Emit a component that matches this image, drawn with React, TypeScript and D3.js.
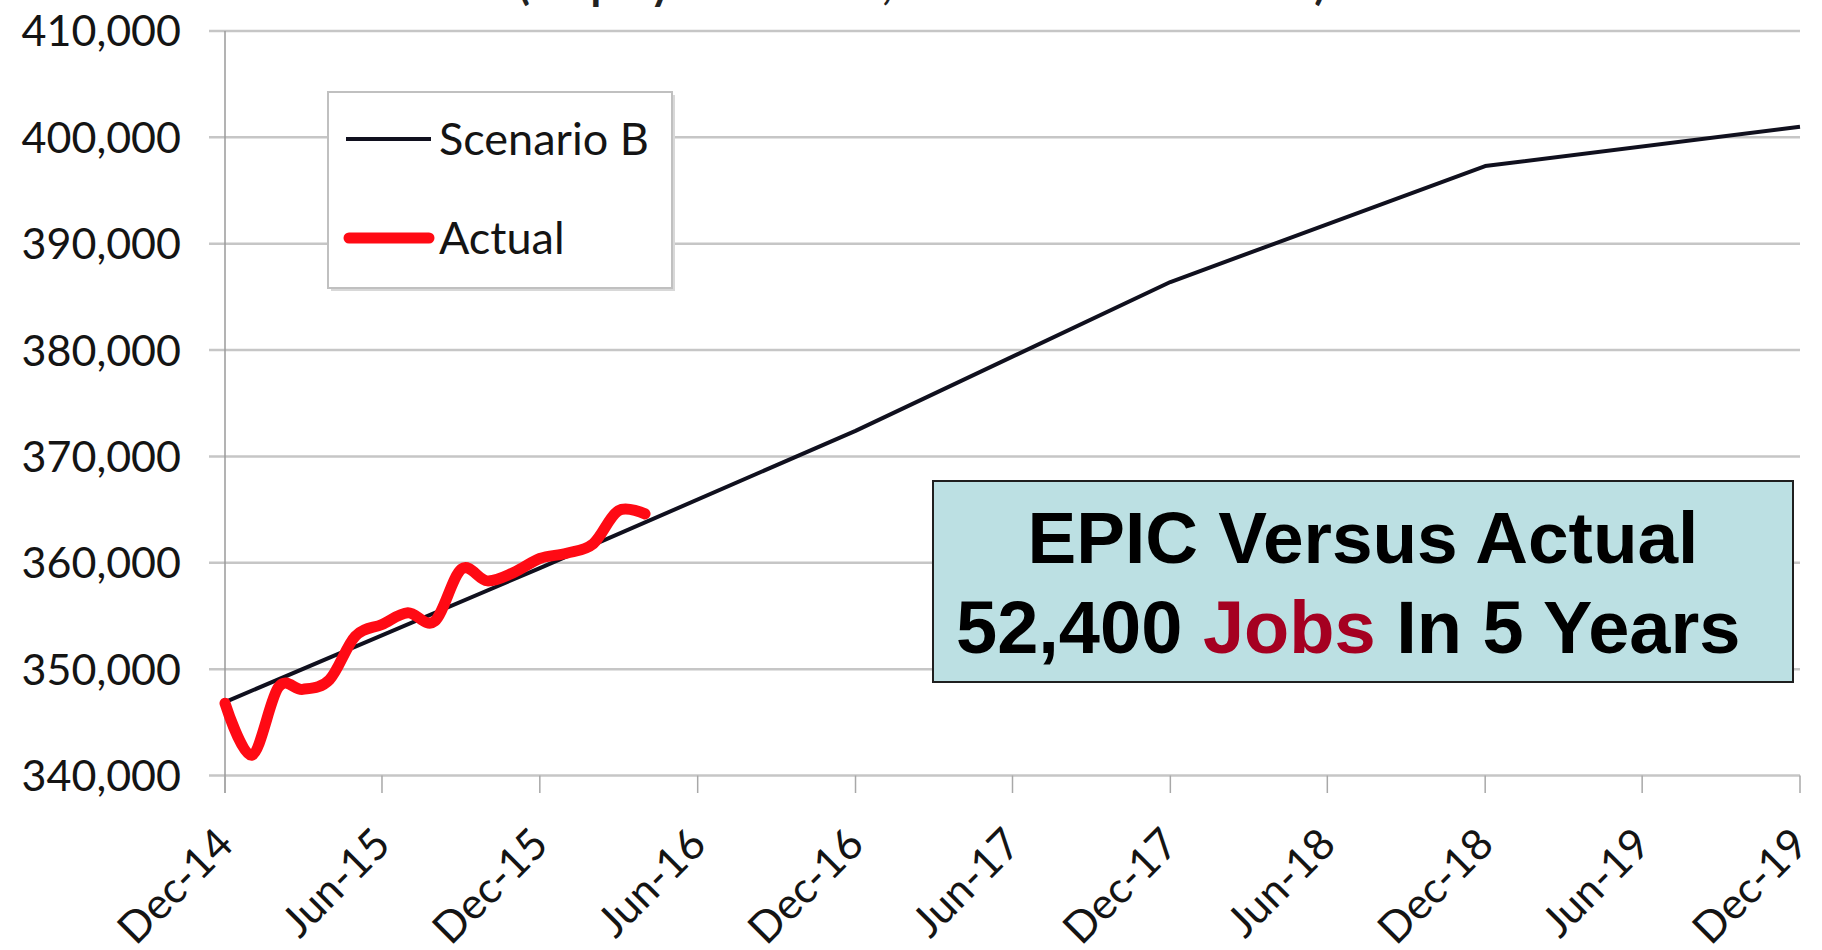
import * as d3 from "d3";

const parseMonth = d3.timeParse("%b-%y");

const xTickLabels = [
  "Dec-14", "Jun-15", "Dec-15", "Jun-16", "Dec-16", "Jun-17",
  "Dec-17", "Jun-18", "Dec-18", "Jun-19", "Dec-19",
];
const yTicks = [340000, 350000, 360000, 370000, 380000, 390000, 400000, 410000];

const scenarioMonths = ["Dec-14", "Dec-15", "Dec-16", "Dec-17", "Dec-18", "Dec-19"];
const scenarioValues = [346900, 359500, 372400, 386400, 397300, 401000];

const actualMonths = [
  "Dec-14", "Jan-15", "Feb-15", "Mar-15", "Apr-15", "May-15", "Jun-15",
  "Jul-15", "Aug-15", "Sep-15", "Oct-15", "Nov-15", "Dec-15", "Jan-16",
  "Feb-16", "Mar-16", "Apr-16",
];
const actualValues = [
  346800, 341900, 348300, 348100, 349000, 353100, 354200,
  355300, 354500, 359400, 358300, 359100, 360400, 360900,
  361800, 364900, 364600,
];

const width = 1822;
const height = 950;
const plot = { left: 225, right: 1800, top: 31, bottom: 775.5 };
const labelFont = "Lato, 'Open Sans', sans-serif";

export default function App() {
  const x = d3
    .scaleTime()
    .domain([parseMonth("Dec-14")!, parseMonth("Dec-19")!])
    .range([plot.left, plot.right]);
  const y = d3.scaleLinear().domain([340000, 410000]).range([plot.bottom, plot.top]);

  const scenarioLine = d3
    .line<number>()
    .x((_, i) => x(parseMonth(scenarioMonths[i])!))
    .y((d) => y(d));

  const actualLine = d3
    .line<number>()
    .curve(d3.curveCardinal.tension(0))
    .x((_, i) => x(parseMonth(actualMonths[i])!))
    .y((d) => y(d));

  const fmt = d3.format(",");

  return (
    <svg
      width={width}
      height={height}
      style={{ position: "absolute", left: 0, top: 0, background: "#fff" }}
    >
      {/* chart title sits above the frame; only its lowest edge shows */}
      <text
        x={922}
        y={-1}
        textAnchor="middle"
        fontFamily={labelFont}
        fontWeight={700}
        fontSize={46}
        fill="#222"
        textLength={808}
        lengthAdjust="spacingAndGlyphs"
      >
        (Employment Level, Dec 2014 - Dec 2019)
      </text>

      {/* grid */}
      {yTicks.map((t) => (
        <line
          key={t}
          x1={209}
          x2={plot.right}
          y1={y(t)}
          y2={y(t)}
          stroke="#c6c6c6"
          strokeWidth={2.5}
        />
      ))}
      <line x1={plot.left} x2={plot.left} y1={plot.top} y2={793} stroke="#9a9a9a" strokeWidth={1.5} />
      {xTickLabels.map((t) => (
        <line
          key={t}
          x1={x(parseMonth(t)!)}
          x2={x(parseMonth(t)!)}
          y1={plot.bottom}
          y2={793}
          stroke="#a8a8a8"
          strokeWidth={1.5}
        />
      ))}

      {/* y labels */}
      {yTicks.map((t) => (
        <text
          key={t}
          x={181}
          y={y(t)}
          dy="0.36em"
          textAnchor="end"
          fontFamily={labelFont}
          fontSize={43}
          fill="#141414"
        >
          {fmt(t)}
        </text>
      ))}

      {/* x labels */}
      {xTickLabels.map((t) => (
        <text
          key={t}
          transform={`translate(${x(parseMonth(t)!)}, 836) rotate(-45)`}
          dy="0.35em"
          textAnchor="end"
          fontFamily={labelFont}
          fontSize={43}
          fill="#141414"
        >
          {t}
        </text>
      ))}

      {/* series */}
      <path
        d={scenarioLine(scenarioValues) ?? ""}
        fill="none"
        stroke="#10101e"
        strokeWidth={4}
        strokeLinejoin="round"
      />
      <path
        d={actualLine(actualValues) ?? ""}
        fill="none"
        stroke="#ff0a14"
        strokeWidth={11}
        strokeLinejoin="round"
        strokeLinecap="round"
      />

      {/* legend */}
      <rect x={331} y={95} width={344} height={196} fill="#d8d8d8" />
      <rect x={328} y={92} width={344} height={196} fill="#fff" stroke="#c0c0c0" strokeWidth={2} />
      <line x1={346} x2={431} y1={139} y2={139} stroke="#10101e" strokeWidth={4} />
      <text x={439} y={139} dy="0.36em" fontFamily={labelFont} fontSize={45} fill="#141414">
        Scenario B
      </text>
      <line x1={349} x2={429} y1={238} y2={238} stroke="#ff0a14" strokeWidth={11} strokeLinecap="round" />
      <text x={439} y={238} dy="0.36em" fontFamily={labelFont} fontSize={45} fill="#141414">
        Actual
      </text>

      {/* annotation box */}
      <rect x={933} y={481} width={860} height={201} fill="#bce0e3" stroke="#1f1f1f" strokeWidth={2} />
      <text
        x={1363}
        y={563}
        textAnchor="middle"
        fontFamily="'Liberation Sans', Arial, sans-serif"
        fontWeight={700}
        fontSize={73}
        fill="#000"
      >
        EPIC Versus Actual
      </text>
      <text
        x={956}
        y={653}
        fontFamily="'Liberation Sans', Arial, sans-serif"
        fontWeight={700}
        fontSize={74}
        fill="#000"
      >
        52,400 <tspan fill="#a50021">Jobs</tspan> In 5 Years
      </text>
    </svg>
  );
}
